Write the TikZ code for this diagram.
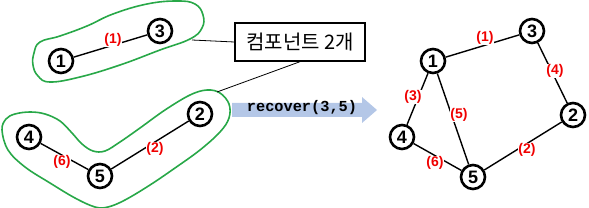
\documentclass[tikz,border=0pt]{standalone}
\usepackage{fontspec}
\setmainfont{Liberation Sans}
\newfontfamily\krfont{Noto Sans CJK KR}
\newfontfamily\codefont{Liberation Mono}
\definecolor{blobgreen}{RGB}{40,168,72}
\definecolor{arrowblue}{RGB}{180,199,231}
\definecolor{lblred}{RGB}{240,0,0}
\tikzset{
  vtx/.style={circle, draw=black, line width=2.6pt, minimum size=24pt, inner sep=0pt, fill=white, font=\fontsize{18}{18}\selectfont\bfseries},
  edge/.style={line width=1.4pt, black},
  wlbl/.style={text=lblred, font=\fontsize{14}{14}\selectfont\bfseries, fill=white, inner sep=0.8pt},
  blob/.style={draw=blobgreen, line width=1.6pt},
  callout/.style={draw=black, line width=1.4pt, minimum width=130pt, minimum height=38pt, inner sep=2pt, font=\krfont\fontsize{20}{20}\selectfont},
  pointer/.style={line width=0.8pt, black}
}
\begin{document}
\begin{tikzpicture}[x=1pt, y=-1pt]
\useasboundingbox (0,0) rectangle (589,208);
% blobs
\draw[blob] plot[smooth cycle, tension=0.7] coordinates {(34,53) (40,42) (60,36) (87,26) (113,14) (147,4) (177,1) (195,4) (203,15) (202,28) (190,39) (160,50) (120,65) (80,77) (50,82) (38,76) (33,65)};
\draw[blob] plot[smooth cycle, tension=0.6] coordinates {(2,130) (6,119) (15,114) (30,112) (45,114) (60,121) (72,133) (82,144) (93,151) (105,151) (120,142) (140,128) (165,110) (190,95) (207,90) (220,93) (229,104) (229,118) (220,132) (200,150) (175,168) (150,185) (125,200) (108,207) (95,207) (75,198) (50,183) (25,167) (8,150)};
% callout
\node[callout] (box) at (300,42) {컴포넌트 2개};
\coordinate (c1) at (192,40);
\coordinate (c2) at (217,92);
\draw[pointer] (box.west) -- (c1);
\draw[pointer] (box.south) -- (c2);
% left graph
\node[vtx] (a1) at (61,61) {1};
\node[vtx] (a3) at (160,31) {3};
\node[vtx] (a4) at (29,137) {4};
\node[vtx] (a5) at (100,176) {5};
\node[vtx] (a2) at (200,114) {2};
\draw[edge] (a1) -- (a3);
\draw[edge] (a4) -- (a5);
\draw[edge] (a5) -- (a2);
\node[wlbl] (l13) at (113,40) {(1)};
\node[wlbl] (l45) at (62,162) {(6)};
\node[wlbl] (l52) at (155,149) {(2)};
% arrow
\fill[arrowblue] (232,103) -- (362,103) -- (362,97) -- (377,110) -- (362,123) -- (362,117) -- (232,117) -- cycle;
\node[font=\codefont\bfseries\fontsize{15.3}{15.3}\selectfont, inner sep=0pt] (rec) at (302,108) {recover(3,5)};
% right graph
\node[vtx] (b1) at (433,61) {1};
\node[vtx] (b3) at (532,31) {3};
\node[vtx] (b2) at (573,115) {2};
\node[vtx] (b4) at (402,137) {4};
\node[vtx] (b5) at (473,177) {5};
\draw[edge] (b1) -- (b3);
\draw[edge] (b3) -- (b2);
\draw[edge] (b1) -- (b4);
\draw[edge] (b1) -- (b5);
\draw[edge] (b4) -- (b5);
\draw[edge] (b5) -- (b2);
\node[wlbl] (m13) at (485,38) {(1)};
\node[wlbl] (m32) at (555,71) {(4)};
\node[wlbl] (m14) at (413,97) {(3)};
\node[wlbl] (m15) at (459,115) {(5)};
\node[wlbl] (m52) at (527,150) {(2)};
\node[wlbl] (m45) at (435,163) {(6)};
\end{tikzpicture}
\end{document}
